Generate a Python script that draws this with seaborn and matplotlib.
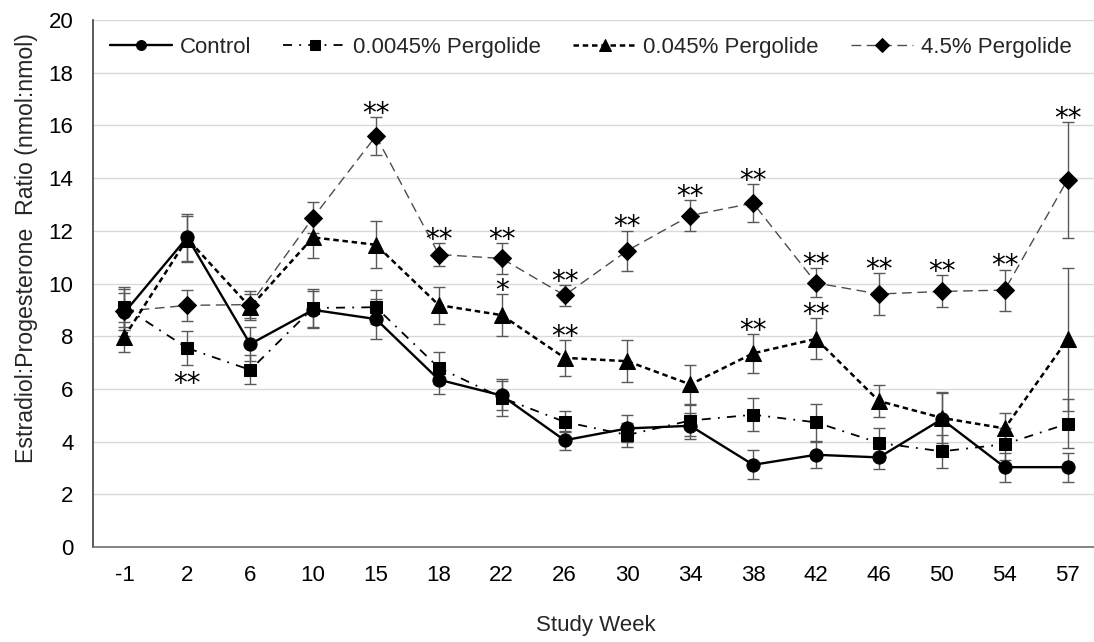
import numpy as np
import pandas as pd
import matplotlib
matplotlib.use("Agg")
import matplotlib.pyplot as plt
import seaborn as sns

# ---------------- data ----------------
weeks = ["-1", "2", "6", "10", "15", "18", "22", "26", "30", "34", "38", "42", "46", "50", "54", "57"]

control = [8.9, 11.75, 7.7, 9.0, 8.65, 6.35, 5.75, 4.05, 4.5, 4.6, 3.12, 3.5, 3.4, 4.85, 3.03, 3.03]
control_se = [0.9, 0.9, 0.65, 0.7, 0.75, 0.55, 0.55, 0.35, 0.5, 0.5, 0.55, 0.5, 0.45, 1.05, 0.55, 0.55]

p00045 = [9.1, 7.55, 6.72, 9.07, 9.1, 6.8, 5.67, 4.75, 4.25, 4.8, 5.02, 4.73, 3.95, 3.63, 3.9, 4.68]
p00045_se = [0.75, 0.63, 0.55, 0.72, 0.65, 0.6, 0.7, 0.4, 0.45, 0.6, 0.62, 0.7, 0.55, 0.62, 0.6, 0.93]

p0045 = [7.98, 11.7, 9.1, 11.75, 11.47, 9.18, 8.8, 7.18, 7.05, 6.17, 7.35, 7.9, 5.54, 4.9, 4.5, 7.88]
p0045_se = [0.57, 0.88, 0.5, 0.8, 0.9, 0.7, 0.8, 0.68, 0.8, 0.73, 0.73, 0.78, 0.62, 0.95, 0.57, 2.7]

p45 = [8.95, 9.17, 9.2, 12.5, 15.6, 11.1, 10.95, 9.55, 11.25, 12.58, 13.05, 10.02, 9.6, 9.7, 9.75, 13.94]
p45_se = [0.7, 0.58, 0.5, 0.6, 0.72, 0.45, 0.6, 0.4, 0.76, 0.57, 0.71, 0.55, 0.78, 0.61, 0.78, 2.2]

stars_p45 = ["", "", "", "", "**", "**", "**", "**", "**", "**", "**", "**", "**", "**", "**", "**"]
stars_p0045 = ["", "", "", "", "", "", "*", "**", "", "", "**", "**", "", "", "", ""]
stars_p00045_below = ["", "**", "", "", "", "", "", "", "", "", "", "", "", "", "", ""]

labels = ["Control", "0.0045% Pergolide", "0.045% Pergolide", "4.5% Pergolide"]

# ---------------- style ----------------
sns.set_style("white")
plt.rcParams["font.family"] = ["Liberation Sans", "DejaVu Sans"]

fig = plt.figure(figsize=(10.94, 6.42), dpi=100)
W, H = 1094, 642
left, right, top, bottom = 93, 1099, 20, 547
ax = fig.add_axes([left / W, 1 - bottom / H, (right - left) / W, (bottom - top) / H])

series = [
    (control, control_se, dict(marker="o", markersize=9.5, linewidth=1.7, linestyle="-", color="black")),
    (p00045, p00045_se, dict(marker="s", markersize=9, linewidth=1.3, linestyle=(0, (5, 4, 1, 4)), color="black")),
    (p0045, p0045_se, dict(marker="^", markersize=11, linewidth=1.8, linestyle=(0, (2.2, 1.5)), color="black")),
    (p45, p45_se, dict(marker="D", markersize=9.5, linewidth=1.0, linestyle=(0, (7, 4)), color="#4d4d4d")),
]

xpos = np.arange(len(weeks))
# draw highest dose first so that Control ends up on top
order = [3, 2, 1, 0]
for k in order:
    vals, se, st = series[k]
    ax.errorbar(xpos, vals, yerr=se, fmt="none", ecolor="#595959", elinewidth=1.0,
                capsize=4.5, capthick=1.0, zorder=2)
    df = pd.DataFrame({"week": weeks, "ratio": vals})
    sns.lineplot(data=df, x="week", y="ratio", ax=ax, sort=False, label=labels[k],
                 markerfacecolor="black", markeredgecolor="black", zorder=3, **st)

# significance marks
star_kw = dict(textcoords="offset points", ha="center", va="baseline",
               fontsize=20, family=["DejaVu Sans"], color="black")
for i, s in enumerate(stars_p45):
    if s:
        ax.annotate(s, (i, p45[i] + p45_se[i]), xytext=(0, -3.5), **star_kw)
for i, s in enumerate(stars_p0045):
    if s:
        ax.annotate(s, (i, p0045[i] + p0045_se[i]), xytext=(0, -3.5), **star_kw)
for i, s in enumerate(stars_p00045_below):
    if s:
        ax.annotate(s, (i, p00045[i] - p00045_se[i]), xytext=(0, -20), **star_kw)

# axes
ax.set_xlim(-0.5, len(weeks) - 0.5)
ax.set_ylim(0, 20)
ax.set_yticks(np.arange(0, 21, 2))
ax.yaxis.grid(True, color="#d9d9d9", linewidth=1.0)
ax.xaxis.grid(False)
ax.set_axisbelow(True)
for sp in ["top", "right"]:
    ax.spines[sp].set_visible(False)
ax.spines["left"].set_color("#404040")
ax.spines["left"].set_linewidth(1.2)
ax.spines["bottom"].set_color("#707070")
ax.spines["bottom"].set_linewidth(1.2)
ax.tick_params(axis="both", length=0, labelsize=16, colors="black")
ax.tick_params(axis="y", pad=14)
ax.tick_params(axis="x", pad=13)
ax.set_xlabel("Study Week", fontsize=16, labelpad=21)
ax.set_ylabel("Estradiol:Progesterone  Ratio (nmol:nmol)", fontsize=16.7, labelpad=8, y=0.567)

handles, labs = ax.get_legend_handles_labels()
hmap = dict(zip(labs, handles))
ax.legend([hmap[l] for l in labels], labels, loc="upper left", bbox_to_anchor=(0.0, 1.0), ncol=4,
          frameon=False, fontsize=16, handlelength=2.8, handletextpad=0.35, columnspacing=1.45,
          markerscale=0.75, borderaxespad=0.55, borderpad=0.2)

fig.savefig("out.png", dpi=100)
